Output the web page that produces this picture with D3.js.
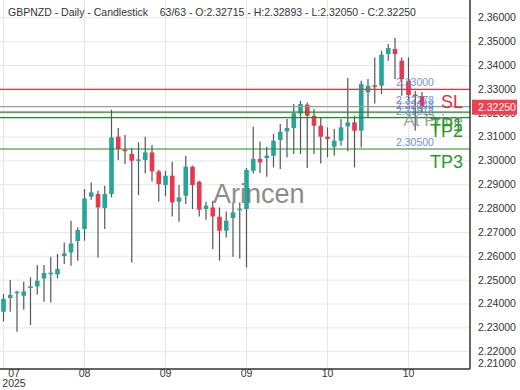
<!DOCTYPE html>
<html>
<head>
<meta charset="utf-8">
<script src="https://cdn.jsdelivr.net/npm/d3@7"></script>
<style>
  body { margin: 0; background: #fff; }
  svg { display: block; font-family: 'Liberation Sans', Arial, sans-serif; }
</style>
</head>
<body>
<script>
// daily candles, oldest first
const opens = [
  2.23677, 2.24252, 2.24461, 2.24348, 2.24704, 2.24738, 2.25073, 2.25287, 2.25241, 2.26013,
  2.26164, 2.26642, 2.27145, 2.28499, 2.28612, 2.28025, 2.28612, 2.31015, 2.30470, 2.30289,
  2.30008, 2.30038, 2.30356, 2.29560, 2.28990, 2.29379, 2.28289, 2.28541, 2.29757, 2.29128,
  2.27983, 2.28050, 2.27660, 2.27073, 2.27606, 2.27971, 2.27983, 2.29589, 2.30080, 2.30122,
  2.30218, 2.30876, 2.31237, 2.31379, 2.31992, 2.32356, 2.31895, 2.31476, 2.31015, 2.30595,
  2.30847, 2.31447, 2.31614, 2.31266, 2.32872, 2.33166, 2.33153, 2.34482, 2.34692, 2.34201,
  2.33363, 2.32776, 2.32715,
];
const highs = [
  2.24419, 2.25006, 2.24558, 2.24935, 2.25115, 2.25635, 2.25635, 2.25983, 2.26096, 2.26583,
  2.27493, 2.27212, 2.28822, 2.29099, 2.28751, 2.28960, 2.32147, 2.31379, 2.31086, 2.30541,
  2.30776, 2.31015, 2.30667, 2.29631, 2.29589, 2.29966, 2.28990, 2.30218, 2.29800, 2.29170,
  2.28289, 2.28331, 2.28050, 2.27883, 2.28260, 2.28260, 2.29702, 2.31434, 2.30818, 2.30595,
  2.31128, 2.31547, 2.31757, 2.32386, 2.32524, 2.32453, 2.32176, 2.31824, 2.31405, 2.31338,
  2.31757, 2.33476, 2.31895, 2.33363, 2.33434, 2.34340, 2.34621, 2.34901, 2.35153, 2.34340,
  2.34340, 2.32943, 2.32893,
];
const lows = [
  2.23270, 2.23677, 2.22839, 2.23761, 2.23119, 2.24390, 2.24096, 2.24067, 2.25073, 2.25677,
  2.25606, 2.25816, 2.26654, 2.28373, 2.25954, 2.27145, 2.28470, 2.30038, 2.29870, 2.25744,
  2.28570, 2.29476, 2.29140, 2.28289, 2.28512, 2.27673, 2.27451, 2.28193, 2.27983, 2.27673,
  2.27535, 2.26306, 2.25816, 2.26792, 2.25983, 2.25912, 2.25535, 2.29476, 2.29493, 2.29338,
  2.29727, 2.29660, 2.30147, 2.30289, 2.30289, 2.29702, 2.30289, 2.29895, 2.30147, 2.30218,
  2.30637, 2.30400, 2.29727, 2.30566, 2.31799, 2.32411, 2.32805, 2.34201, 2.33434, 2.32734,
  2.32524, 2.31266, 2.32050,
];
const closes = [
  2.24210, 2.24377, 2.24516, 2.24528, 2.24734, 2.24977, 2.25300, 2.25312, 2.25468, 2.26122,
  2.26541, 2.27103, 2.28428, 2.28679, 2.28050, 2.28612, 2.30985, 2.30499, 2.30444, 2.30008,
  2.30063, 2.30356, 2.29560, 2.29031, 2.29379, 2.28260, 2.28470, 2.29757, 2.28990, 2.27954,
  2.28122, 2.27673, 2.27073, 2.27493, 2.27841, 2.27996, 2.29618, 2.30080, 2.29937, 2.30218,
  2.30847, 2.31224, 2.31379, 2.31992, 2.32386, 2.31895, 2.31476, 2.31015, 2.30918, 2.30847,
  2.31405, 2.31614, 2.31266, 2.33224, 2.33153, 2.33132, 2.34453, 2.34734, 2.34482, 2.33434,
  2.32763, 2.32715, 2.32250,
];

const xTickIdx = [0, 12, 24, 36, 48, 60];
const xTickLabels = ['07', '08', '09', '09', '10', '10'];
const yTicks = [2.21, 2.22, 2.23, 2.24, 2.25, 2.26, 2.27, 2.28, 2.29, 2.3, 2.31, 2.32, 2.33, 2.34, 2.35, 2.36];

// trade levels
const levelNames = ['SL', 'At Price', 'TP1', 'TP2', 'TP3'];
const levelPrices = [2.33, 2.32278, 2.32048, 2.31818, 2.305];

const lastPrice = 2.3225;
const title = 'GBPNZD - Daily - Candlestick    63/63 - O:2.32715 - H:2.32893 - L:2.32050 - C:2.32250';

const w = 520;
const h = 390;
const plotR = 470;
const plotB = 369;

const upColor = '#26a69a';
const downColor = '#e8384f';

const svg = d3.select('body').append('svg').attr('width', w).attr('height', h);

svg.append('defs').append('clipPath').attr('id', 'plot')
  .append('rect').attr('x', 0).attr('y', 0).attr('width', plotR).attr('height', plotB);

const x = d3.scaleLinear().domain([0, opens.length - 1]).range([3.5, 422]);
const y = d3.scaleLinear().domain([2.22, 2.35]).range([351.7, 41.65]);

const plot = svg.append('g').attr('clip-path', 'url(#plot)');

// grid
plot.selectAll('.hgrid')
  .data(yTicks)
  .enter()
  .append('line')
  .attr('x1', 0).attr('x2', plotR)
  .attr('y1', (d) => y(d)).attr('y2', (d) => y(d))
  .attr('stroke', '#e6e6e6');

plot.selectAll('.vgrid')
  .data(xTickIdx)
  .enter()
  .append('line')
  .attr('x1', (d) => x(d)).attr('x2', (d) => x(d))
  .attr('y1', 0).attr('y2', plotB)
  .attr('stroke', '#e6e6e6');

// watermark
svg.append('text')
  .attr('x', 213).attr('y', 203)
  .style('font-size', '27px')
  .style('fill', '#666')
  .style('opacity', 0.75)
  .text('Arincen');

// candles
const candles = d3.range(opens.length).map((i) => ({
  i, o: opens[i], h: highs[i], l: lows[i], c: closes[i],
}));

plot.selectAll('.wick')
  .data(candles)
  .enter()
  .append('line')
  .attr('x1', (d) => x(d.i)).attr('x2', (d) => x(d.i))
  .attr('y1', (d) => y(d.h)).attr('y2', (d) => y(d.l))
  .attr('stroke', '#555')
  .attr('stroke-width', 1.2);

plot.selectAll('.body')
  .data(candles)
  .enter()
  .append('rect')
  .attr('x', (d) => x(d.i) - 2.3)
  .attr('width', 4.6)
  .attr('y', (d) => y(Math.max(d.o, d.c)))
  .attr('height', (d) => Math.max(1.5, Math.abs(y(d.o) - y(d.c))))
  .attr('fill', (d) => (d.c >= d.o ? upColor : downColor));

// level lines
const lineColor = (n) => (n === 'SL' ? '#d9363e' : n === 'At Price' ? '#9a9a9a' : '#1f8a1f');
const levels = levelNames.map((n, i) => ({ n, p: levelPrices[i] }));

plot.selectAll('.level')
  .data(levels)
  .enter()
  .append('line')
  .attr('x1', 0).attr('x2', plotR)
  .attr('y1', (d) => y(d.p)).attr('y2', (d) => y(d.p))
  .attr('stroke', (d) => lineColor(d.n))
  .attr('stroke-width', 1.2);

plot.selectAll('.levelPrice')
  .data(levels)
  .enter()
  .append('text')
  .attr('x', 396)
  .attr('y', (d) => y(d.p) - 3)
  .style('font-size', '10.5px')
  .style('fill', '#5b7bd5')
  .style('opacity', 0.85)
  .text((d) => d3.format('.5f')(d.p));

plot.selectAll('.levelName')
  .data(levels)
  .enter()
  .append('text')
  .attr('x', 463)
  .attr('y', (d) => y(d.p) + 19)
  .attr('text-anchor', 'end')
  .style('font-size', (d) => (d.n === 'At Price' ? '17px' : '18px'))
  .style('fill', (d) => (d.n === 'SL' ? '#e0303f' : d.n === 'At Price' ? '#8a8a8a' : '#2a9a2a'))
  .style('opacity', (d) => (d.n === 'At Price' ? 0.8 : 1))
  .text((d) => d.n);

// axes frame
svg.append('line')
  .attr('x1', plotR).attr('x2', plotR).attr('y1', 0).attr('y2', plotB)
  .attr('stroke', '#333').attr('stroke-width', 1.5);
svg.append('line')
  .attr('x1', 0).attr('x2', plotR).attr('y1', plotB).attr('y2', plotB)
  .attr('stroke', '#333').attr('stroke-width', 1.5);

// y axis on the right
const yAxis = svg.append('g')
  .attr('transform', `translate(${plotR},0)`)
  .call(d3.axisRight(y).tickValues(yTicks).tickSize(0).tickFormat(d3.format('.5f')));
yAxis.select('.domain').remove();
yAxis.selectAll('.tick')
  .attr('transform', (d) => `translate(0,${Math.min(y(d), 364)})`);
yAxis.selectAll('text')
  .attr('x', 8)
  .style('font-size', '10.5px')
  .style('font-family', "'Liberation Sans', Arial, sans-serif")
  .style('fill', '#333');

// last price tag
svg.append('rect')
  .attr('x', 472).attr('y', y(lastPrice) - 7.5)
  .attr('width', 45).attr('height', 15)
  .attr('fill', '#f0404f');
svg.append('text')
  .attr('x', 478).attr('y', y(lastPrice) + 4)
  .style('font-size', '10.5px')
  .style('fill', '#fff')
  .text(d3.format('.5f')(lastPrice));

// x axis labels
svg.selectAll('.xlab')
  .data(xTickIdx)
  .enter()
  .append('text')
  .attr('x', (d, i) => (i === 0 ? 14 : x(d)))
  .attr('y', 377)
  .attr('text-anchor', 'middle')
  .style('font-size', '10.5px')
  .style('fill', '#333')
  .text((d, i) => xTickLabels[i]);

svg.append('text')
  .attr('x', 14).attr('y', 387)
  .attr('text-anchor', 'middle')
  .style('font-size', '10.5px')
  .style('fill', '#333')
  .text('2025');

// title
svg.append('text')
  .attr('x', 8).attr('y', 16)
  .style('font-size', '10.5px')
  .style('fill', '#333')
  .style('white-space', 'pre')
  .attr('xml:space', 'preserve')
  .text(title);
</script>
</body>
</html>
